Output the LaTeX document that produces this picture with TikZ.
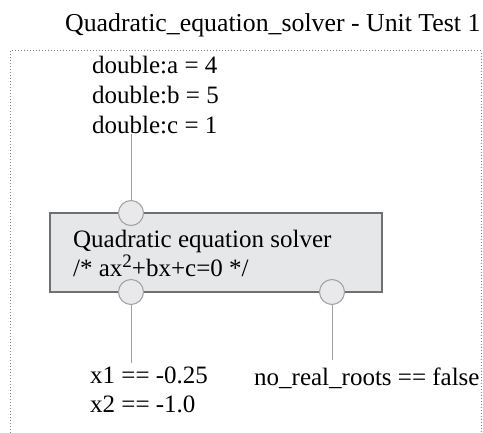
\documentclass[tikz,border=0pt]{standalone}
\usepackage{fontspec}
\setmainfont{Liberation Serif}
\usetikzlibrary{positioning, math}
\definecolor{boxgray}{RGB}{230,231,233}
\definecolor{edgegray}{RGB}{112,112,112}
\definecolor{portgray}{RGB}{233,233,235}
\definecolor{wiregray}{RGB}{160,160,160}
\definecolor{framegray}{RGB}{130,130,130}

\tikzset{
  labeltext/.style={anchor=base west, inner sep=0pt, font=\fontsize{25}{30}\selectfont},
  port/.style={circle, draw=wiregray, fill=portgray, line width=1pt, minimum size=25pt, inner sep=0pt},
  wire/.style={draw=wiregray, line width=1pt},
}

\begin{document}
\begin{tikzpicture}[x=1pt, y=-1pt]
\tikzmath{
\lx=131; \rx=332;
}
\useasboundingbox (0,0) rectangle (483,433);

\node[labeltext, font=\fontsize{25.8}{30}\selectfont] (title) at (65,32) {Quadratic\_equation\_solver - Unit Test 1};
\draw[dotted, framegray, line width=1pt] (10,433) -- (10,51) -- (481,51) -- (481,433);

% inputs
\node[labeltext] (ina) at (92,74) {double:a = 4};
\node[labeltext] (inb) at (92,104) {double:b = 5};
\node[labeltext] (inc) at (92,134) {double:c = 1};

% solver block
\node[draw=edgegray, fill=boxgray, line width=1.5pt, minimum width=332pt, minimum height=79pt, inner sep=0pt] (solver) at (216,252.5) {};
\node[labeltext] (name) at (73,248) {Quadratic equation solver};
\node[labeltext] (eqn) at (73,277) {/* ax\raisebox{9pt}{\fontsize{19}{19}\selectfont 2}+bx+c=0 */};

% outputs
\node[labeltext] (outa) at (90,384) {x1 == -0.25};
\node[labeltext] (outb) at (90,413) {x2 == -1.0};
\node[labeltext] (outc) at (254,386) {no\_real\_roots == false};
\coordinate (enda) at (\lx,363);
\coordinate (endc) at (\rx,360);

\node[port] (pin) at (\lx,213) {};
\node[port] (pouta) at (\lx,292) {};
\node[port] (poutc) at (\rx,292) {};

\draw[wire] (pin.north) -- (pin |- inc.base);
\draw[wire] (pouta.south) -- (enda);
\draw[wire] (poutc.south) -- (endc);
\end{tikzpicture}
\end{document}
